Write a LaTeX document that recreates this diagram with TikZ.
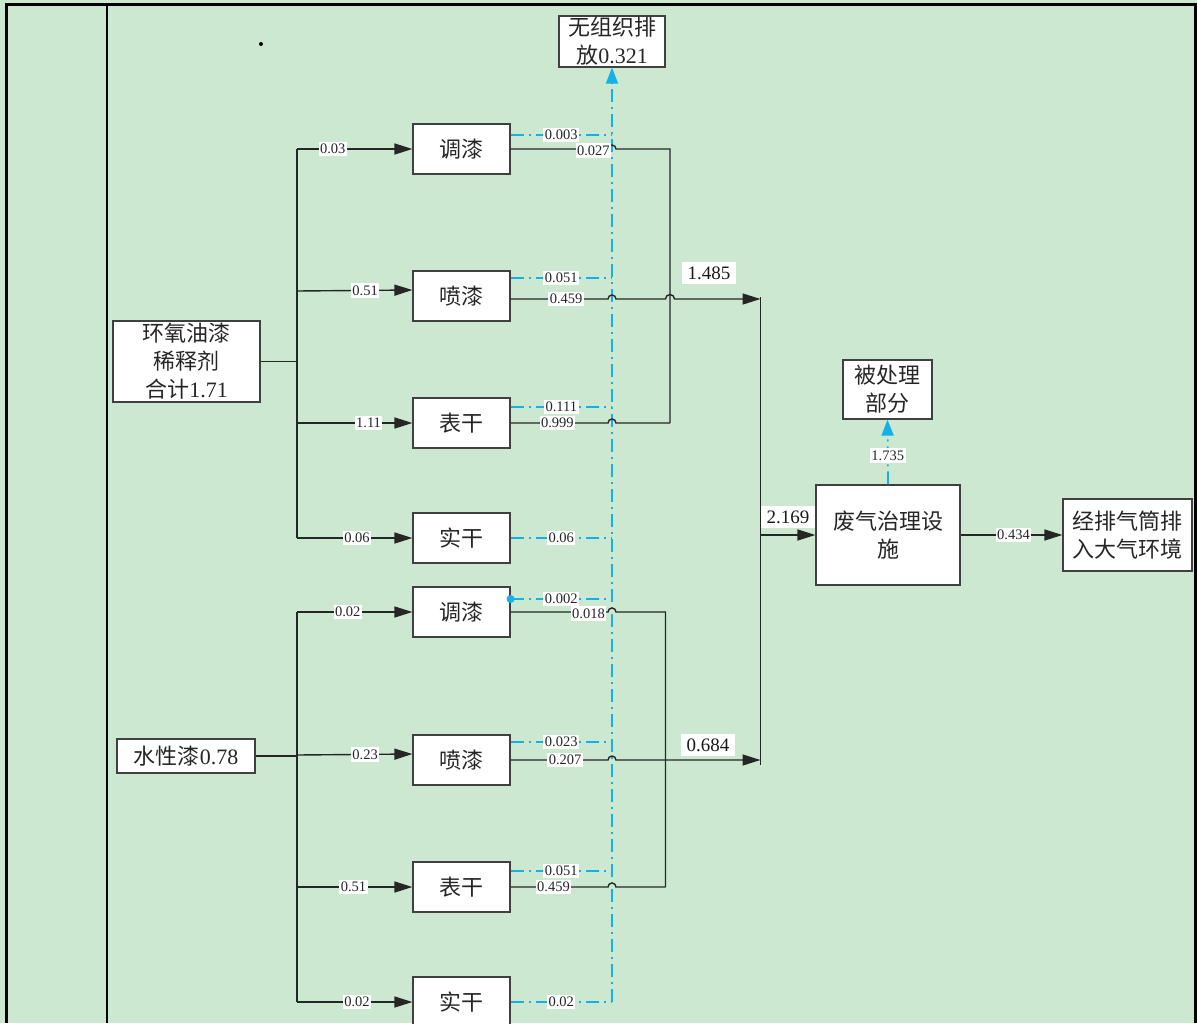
\documentclass[tikz,border=0pt]{standalone}
\usepackage{fontspec}
\setmainfont{Liberation Serif}
\newfontfamily\cjk{Noto Sans CJK SC}
\usetikzlibrary{arrows.meta}
\definecolor{bg}{RGB}{205,232,208}
\definecolor{lblue}{RGB}{20,176,232}
\begin{document}
\begin{tikzpicture}[x=1pt,y=-1pt,
  box/.style={draw=black!75, line width=1.2pt, fill=white, text=black!85,
    minimum width=97pt, minimum height=50pt, inner sep=0pt, align=center,
    font=\fontsize{22}{28}\selectfont\cjk},
  lbl/.style={fill=white, inner xsep=1.5pt, inner ysep=2.5pt, text=black!85,
    font=\fontsize{14.5}{14.5}\selectfont},
  biglbl/.style={fill=white, inner xsep=6pt, inner ysep=5pt, text=black!90,
    font=\fontsize{19}{19}\selectfont},
  ln/.style={line width=1.4pt, draw=black!85},
  arr/.style={ln, -{Triangle[length=18pt,width=11pt]}},
  bl/.style={draw=lblue, line width=1.7pt, dash pattern=on 13pt off 5pt on 2pt off 5pt},
  blarr/.style={bl, -{Triangle[length=16pt,width=12pt,fill=lblue]}}
]
\useasboundingbox (0,0) rectangle (1197,1023);
\clip (0,0) rectangle (1197,1023);
\fill[bg] (0,0) rectangle (1197,1023);
% frame
\draw[line width=3pt] (5.4,4.8) -- (1197,4.8);
\draw[line width=2.7pt] (6.7,3.3) -- (6.7,1023);
\draw[line width=2pt] (107,3.3) -- (107,1023);
\draw[line width=3pt] (1195.5,3.3) -- (1195.5,1023);
\fill (261,44) circle[radius=2];

% nodes
\node[box, minimum width=106pt, minimum height=51pt] (wu) at (612,41.5) {无组织排\\放{\rmfamily 0.321}};
\node[box] (b1) at (461.5,149) {调漆};
\node[box] (b2) at (461.5,296) {喷漆};
\node[box] (b3) at (461.5,423) {表干};
\node[box] (b4) at (461.5,538) {实干};
\node[box] (b5) at (461.5,612) {调漆};
\node[box] (b6) at (461.5,760) {喷漆};
\node[box] (b7) at (461.5,887) {表干};
\node[box] (b8) at (461.5,1002) {实干};
\node[box, minimum width=147pt, minimum height=81pt] (s1) at (186.5,361.5) {环氧油漆\\稀释剂\\合计{\rmfamily 1.71}};
\node[box, minimum width=138pt, minimum height=34pt] (s2) at (186,756) {水性漆{\rmfamily 0.78}};
\node[box, minimum width=89pt, minimum height=59pt] (bc) at (887.5,389.5) {被处理\\部分};
\node[box, minimum width=144pt, minimum height=100pt] (fq) at (888,535) {废气治理设\\施};
\node[box, minimum width=129pt, minimum height=72pt] (jp) at (1127.5,535) {经排气筒排\\入大气环境};

% inputs group 1
\coordinate (j1) at (297,361.5);
\coordinate (t1) at (297,149);
\coordinate (t4) at (297,538);
\draw[ln] (s1.east) -- (j1);
\draw[ln] (t1) -- (t4);
\draw[arr] (t1) -- node[lbl,pos=0.31]{0.03} (b1.west);
\draw[arr] (297,291) -- node[lbl,pos=0.59]{0.51} ([yshift=6pt]b2.west);
\draw[arr] (297,423) -- node[lbl,pos=0.62]{1.11} (b3.west);
\draw[arr] (t4) -- node[lbl,pos=0.52]{0.06} (b4.west);
% inputs group 2
\coordinate (j2) at (297,756);
\coordinate (t5) at (297,612);
\coordinate (t8) at (297,1002);
\draw[ln] (s2.east) -- (j2);
\draw[ln] (t5) -- (t8);
\draw[arr] (t5) -- node[lbl,pos=0.44]{0.02} (b5.west);
\draw[arr] (297,755) -- node[lbl,pos=0.59]{0.23} ([yshift=6pt]b6.west);
\draw[arr] (297,887) -- node[lbl,pos=0.49]{0.51} (b7.west);
\draw[arr] (t8) -- node[lbl,pos=0.52]{0.02} (b8.west);

% blue unorganised emissions
\draw[bl] ([yshift=14pt]b1.east) -- node[lbl]{0.003} (612,135);
\draw[bl] ([yshift=18pt]b2.east) -- node[lbl]{0.051} (612,278);
\draw[bl] ([yshift=16pt]b3.east) -- node[lbl]{0.111} (612,407);
\draw[bl] (b4.east) -- node[lbl]{0.06} (612,538);
\draw[bl] ([yshift=13pt]b5.east) -- node[lbl]{0.002} (612,599);
\fill[lblue] ([yshift=13pt]b5.east) circle[radius=4];
\draw[bl] ([yshift=18pt]b6.east) -- node[lbl]{0.023} (612,742);
\draw[bl] ([yshift=16pt]b7.east) -- node[lbl]{0.051} (612,871);
\draw[bl] (b8.east) -- node[lbl]{0.02} (612,1002);
\coordinate (vb) at (612,1002);
\draw[blarr] (vb) -- (wu.south);

% black outputs group 1
\draw[ln] (b1.east) -- node[lbl,pos=0.85,yshift=-1.5pt]{0.027} (608,149)
  arc[start angle=180,end angle=360,radius=4] -- (670,149) -- (670,423);
\draw[arr] ([yshift=-3pt]b2.east) -- node[lbl,pos=0.57]{0.459} (608,299)
  arc[start angle=180,end angle=360,radius=4] -- (665.5,299)
  arc[start angle=180,end angle=360,radius=4.5] -- (760.5,299);
\node[biglbl] (l1485) at (709,273) {1.485};
\draw[ln] (b3.east) -- node[lbl,pos=0.48]{0.999} (608,423)
  arc[start angle=180,end angle=360,radius=4] -- (670,423);
% black outputs group 2
\draw[ln] (b5.east) -- node[lbl,pos=0.80,yshift=-1.5pt]{0.018} (608,612)
  arc[start angle=180,end angle=360,radius=4] -- (665.5,612) -- (665.5,887);
\draw[arr] (b6.east) -- node[lbl,pos=0.56]{0.207} (608,760)
  arc[start angle=180,end angle=360,radius=4] -- (760.5,760);
\node[biglbl] (l0684) at (708,745) {0.684};
\draw[ln] (b7.east) -- node[lbl,pos=0.44]{0.459} (608,887)
  arc[start angle=180,end angle=360,radius=4] -- (665.5,887);

% collector
\coordinate (ct) at (760.5,297);
\coordinate (cb) at (760.5,765);
\coordinate (cm) at (760.5,535);
\draw[ln] (ct) -- (cb);
\draw[arr] (cm) -- (fq.west);
\node[biglbl] (l2169) at (788,517) {2.169};
\draw[blarr] (fq.north) -- node[lbl,pos=0.44]{1.735} (bc.south);
\draw[arr] (fq.east) -- node[lbl,pos=0.52]{0.434} (jp.west);
\end{tikzpicture}
\end{document}
